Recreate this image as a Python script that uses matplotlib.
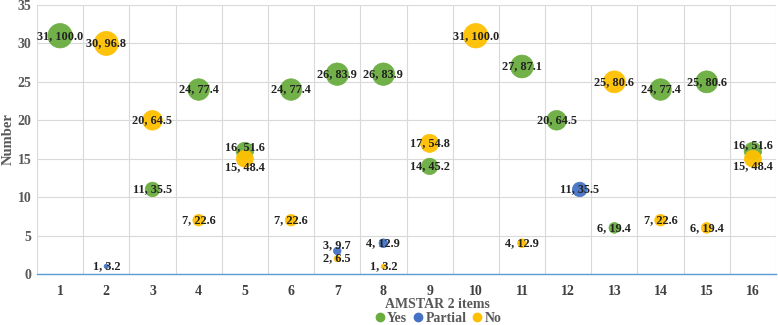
import matplotlib
matplotlib.use('Agg')
import matplotlib.pyplot as plt
from matplotlib.lines import Line2D

# AMSTAR 2 items: count, percent
yes_x = [1, 3, 4, 5, 6, 7, 8, 9, 11, 11.75, 13, 14, 15, 16]
yes_n = [31, 11, 24, 16, 24, 26, 26, 14, 27, 20, 6, 24, 25, 16]
yes_pct = [100.0, 35.5, 77.4, 51.6, 77.4, 83.9, 83.9, 45.2, 87.1, 64.5, 19.4, 77.4, 80.6, 51.6]

partial_x = [2, 7, 8, 12.25]
partial_n = [1, 3, 4, 11]
partial_pct = [3.2, 9.7, 12.9, 35.5]

no_x = [2, 3, 4, 5, 6, 7, 8, 9, 10, 11, 13, 14, 15, 16]
no_n = [30, 20, 7, 15, 7, 2, 1, 17, 31, 4, 25, 7, 6, 15]
no_pct = [96.8, 64.5, 22.6, 48.4, 22.6, 6.5, 3.2, 54.8, 100.0, 12.9, 80.6, 22.6, 19.4, 48.4]

items = list(range(1, 17))

GREEN = '#6AAD3F'
BLUE = '#4472C4'
YELLOW = '#FFC000'
TXT = '#222222'

plt.rcParams['font.family'] = ['Liberation Serif', 'DejaVu Serif']
plt.rcParams['font.weight'] = 'bold'

fig = plt.figure(figsize=(7.78, 3.25), dpi=100)
ax = fig.add_axes([37 / 778, 1 - 274 / 325, 739 / 778, 269 / 325])

scale = 3.1
# label offsets (points) for overlapping bubbles
yes_off = {5: 3, 16: 4}
no_off = {5: -6, 16: -5}
partial_off = {7: 4}

series = [
    (yes_x, yes_n, yes_pct, GREEN, yes_off),
    (partial_x, partial_n, partial_pct, BLUE, partial_off),
    (no_x, no_n, no_pct, YELLOW, no_off),
]
for xs, ns, ps, col, offs in series:
    ax.scatter(xs, ns, s=[p * scale for p in ps], color=col,
               edgecolor=col, linewidth=0.5, zorder=3, alpha=0.95)
for xs, ns, ps, col, offs in series:
    for x, n, p in zip(xs, ns, ps):
        dy = offs.get(x, 0)
        ax.annotate(f'{n}, {p:.1f}', (x, n), xytext=(0, dy),
                    textcoords='offset points', ha='center', va='center',
                    fontsize=8.8, color=TXT, fontweight='bold', zorder=4)

ax.set_xlim(0.5, 16.5)
ax.set_ylim(0, 35)
ax.set_yticks(range(0, 36, 5))
ax.set_xticks(items)
ax.set_xticks([i + 0.5 for i in range(0, 17)], minor=True)
ax.grid(False)
ax.grid(True, which='minor', axis='x', color='#D9D9D9', linewidth=0.8)
ax.grid(True, which='major', axis='y', color='#D9D9D9', linewidth=0.8)
ax.set_axisbelow(True)
for s in ['top', 'right', 'left']:
    ax.spines[s].set_visible(False)
ax.spines['bottom'].set_color('#5B9BD5')
ax.spines['bottom'].set_linewidth(1.0)
ax.tick_params(which='both', length=0)
ax.tick_params(axis='x', pad=8, labelsize=10, labelcolor='#404040')
ax.tick_params(axis='y', pad=4, labelsize=10, labelcolor='#595959')
for lab in ax.get_xticklabels() + ax.get_yticklabels():
    lab.set_fontweight('bold')

ax.set_ylabel('Number', fontsize=10.5, fontweight='bold', color='#595959', labelpad=2)
fig.text(437 / 778, 1 - 305 / 325, 'AMSTAR 2 items', ha='center', va='center',
         fontsize=10, fontweight='bold', color='#595959')

handles = [Line2D([], [], marker='o', linestyle='', color=c, markersize=6)
           for c in (GREEN, BLUE, YELLOW)]
fig.legend(handles, ['Yes', 'Partial', 'No'], loc='center',
           bbox_to_anchor=(437 / 778, 1 - 318 / 325), ncol=3, frameon=False,
           handletextpad=0.05, columnspacing=0.25,
           handlelength=1.0, borderaxespad=0,
           labelcolor='#595959', prop={'weight': 'bold', 'size': 10})

fig.savefig('out.png', dpi=100)
